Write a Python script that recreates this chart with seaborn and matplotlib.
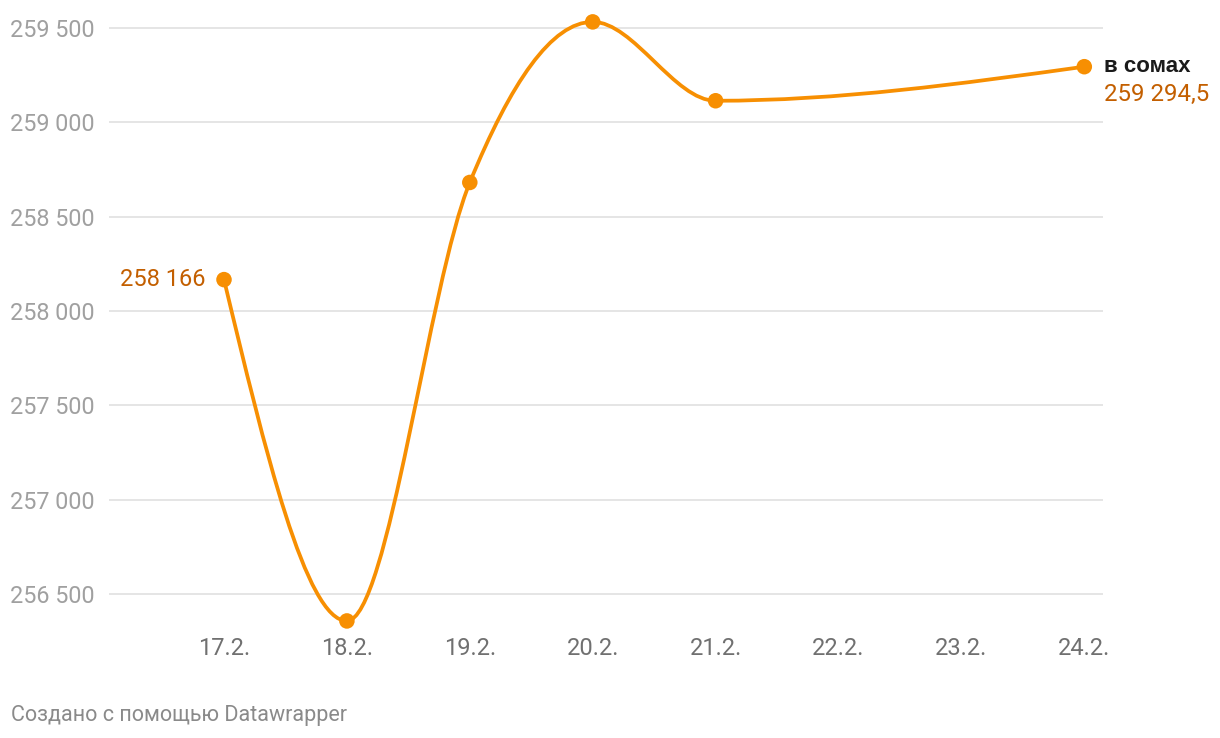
import numpy as np
import matplotlib
matplotlib.use("Agg")
import matplotlib.pyplot as plt
from matplotlib.path import Path
from matplotlib.patches import PathPatch
import seaborn as sns
import pandas as pd

# data
days = [17, 18, 19, 20, 21, 24]
values = [258166, 256357, 258681, 259532, 259114, 259294.5]
tick_days = [17, 18, 19, 20, 21, 22, 23, 24]
tick_labels = ["17.2.", "18.2.", "19.2.", "20.2.", "21.2.", "22.2.", "23.2.", "24.2."]
y_ticks = [256500, 257000, 257500, 258000, 258500, 259000, 259500]
series_name = "в сомах"
first_label = "258 166"
last_label = "259 294,5"
footer = "Создано с помощью Datawrapper"

ORANGE = "#f78f02"
LABEL_ORANGE = "#c35f00"

sns.set_theme(style="white")
plt.rcParams["font.family"] = ["Roboto", "DejaVu Sans"]


def monotone_path(xs, ys):
    # d3.curveMonotoneX as bezier segments
    xs = np.asarray(xs, float)
    ys = np.asarray(ys, float)
    n = len(xs)
    h = np.diff(xs)
    s = np.diff(ys) / h
    t = np.zeros(n)
    for i in range(1, n - 1):
        p = (s[i - 1] * h[i] + s[i] * h[i - 1]) / (h[i - 1] + h[i])
        t[i] = (np.sign(s[i - 1]) + np.sign(s[i])) * min(abs(s[i - 1]), abs(s[i]), 0.5 * abs(p))
    t[0] = (3 * s[0] - t[1]) / 2
    t[-1] = (3 * s[-1] - t[-2]) / 2
    verts = [(xs[0], ys[0])]
    codes = [Path.MOVETO]
    for i in range(n - 1):
        dx = h[i] / 3
        verts += [(xs[i] + dx, ys[i] + dx * t[i]),
                  (xs[i + 1] - dx, ys[i + 1] - dx * t[i + 1]),
                  (xs[i + 1], ys[i + 1])]
        codes += [Path.CURVE4] * 3
    return Path(verts, codes)


fig = plt.figure(figsize=(12.2, 7.38), dpi=100)
ax = fig.add_axes([109 / 1220, 1 - 630 / 738, (1103 - 109) / 1220, 620 / 738])

ax.set_xlim(17 + (109 - 224) / 122.9, 17 + (1103 - 224) / 122.9)
ax.set_ylim(256309, 259595)

for yt in y_ticks:
    ax.axhline(yt, color="#e3e3e3", lw=1.3, zorder=0)

ax.add_patch(PathPatch(monotone_path(days, values), facecolor="none",
                       edgecolor=ORANGE, lw=2.7, capstyle="round", zorder=3))

df = pd.DataFrame({"day": days, "value": values})
sns.scatterplot(data=df, x="day", y="value", ax=ax, color=ORANGE, s=125,
                edgecolor="none", zorder=4, legend=False)

ax.set_xticks(tick_days)
ax.set_xticklabels(tick_labels, fontsize=17, color="#707070")
ax.set_yticks(y_ticks)
ax.set_yticklabels([f"{v:,}".replace(",", " ") for v in y_ticks], fontsize=16.8, color="#a0a0a0")
ax.tick_params(axis="y", length=0, pad=10)
ax.tick_params(axis="x", length=0, pad=5)
ax.set_xlabel("")
ax.set_ylabel("")
for sp in ax.spines.values():
    sp.set_visible(False)

ax.annotate(first_label, (days[0], values[0]), xytext=(-13, 0), textcoords="offset points",
            ha="right", va="center", fontsize=17, color=LABEL_ORANGE)
ax.annotate(series_name, (days[-1], values[-1]), xytext=(14, 0), textcoords="offset points",
            ha="left", va="center", fontsize=16, fontweight="bold", color="#1a1a1a",
            family=["Liberation Sans", "DejaVu Sans"])
ax.annotate(last_label, (days[-1], values[-1]), xytext=(14, -20), textcoords="offset points",
            ha="left", va="center", fontsize=17.3, color=LABEL_ORANGE, annotation_clip=False)

fig.text(11 / 1220, 1 - 715 / 738, footer, fontsize=15.5, color="#8a8a8a", ha="left", va="center")

fig.savefig("out.png", dpi=100)
